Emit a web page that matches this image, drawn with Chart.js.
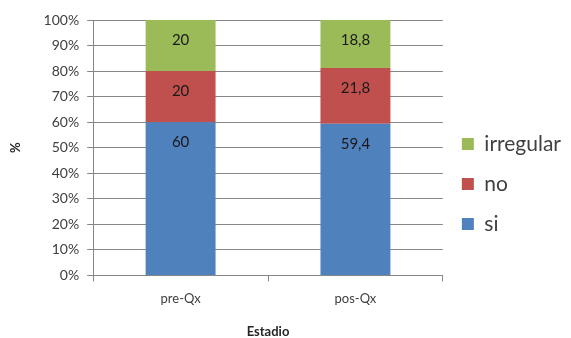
<!DOCTYPE html>
<html>
<head>
<meta charset="utf-8">
<script src="https://cdn.jsdelivr.net/npm/chart.js@4/dist/chart.umd.min.js"></script>
<style>
  html, body { margin: 0; padding: 0; background: #fff; }
  #wrap { width: 571px; height: 338px; }
</style>
</head>
<body>
<div id="wrap"><canvas id="c" width="571" height="338"></canvas></div>
<script>
// Stages and the share of each answer (%) per stage
const categories = ['pre-Qx', 'pos-Qx'];
const siValues = [60, 59.4];
const noValues = [20, 21.8];
const irregularValues = [20, 18.8];
const yTicks = [0, 10, 20, 30, 40, 50, 60, 70, 80, 90, 100];

const FONT = 'Lato, "Open Sans", sans-serif';
const AXIS_GREY = '#868686';
const TEXT_GREY = '#404040';

// Writes each segment's value (comma decimal) just below the segment's top
const valueLabels = {
  id: 'valueLabels',
  afterDatasetsDraw(chart) {
    const ctx = chart.ctx;
    ctx.save();
    ctx.font = '15px ' + FONT;
    ctx.fillStyle = '#1a1a1a';
    ctx.textAlign = 'center';
    ctx.textBaseline = 'middle';
    chart.data.datasets.forEach((ds, i) => {
      const meta = chart.getDatasetMeta(i);
      meta.data.forEach((bar, j) => {
        const v = ds.data[j];
        const txt = String(v).replace('.', ',');
        ctx.fillText(txt, bar.x, bar.y + 20);
      });
    });
    ctx.restore();
  }
};

new Chart(document.getElementById('c'), {
  type: 'bar',
  data: {
    labels: categories,
    datasets: [
      { label: 'si', data: siValues, backgroundColor: '#4F81BD' },
      { label: 'no', data: noValues, backgroundColor: '#C0504D' },
      { label: 'irregular', data: irregularValues, backgroundColor: '#9BBB59' }
    ]
  },
  options: {
    responsive: false,
    animation: false,
    devicePixelRatio: 1,
    layout: { padding: { top: 20, left: 8, right: 0, bottom: 0 } },
    datasets: { bar: { barPercentage: 0.4, categoryPercentage: 1 } },
    plugins: {
      legend: {
        position: 'right',
        reverse: true,
        title: { display: true, text: ' ', font: { size: 10, lineHeight: 1 }, padding: 0 },
        labels: {
          boxWidth: 12,
          boxHeight: 12,
          padding: 19,
          color: TEXT_GREY,
          font: { family: FONT, size: 21 }
        }
      },
      tooltip: { enabled: false }
    },
    scales: {
      x: {
        stacked: true,
        grid: { display: true, drawOnChartArea: false, drawTicks: true, tickLength: 6, color: AXIS_GREY, offset: true },
        border: { color: AXIS_GREY },
        ticks: { color: TEXT_GREY, font: { family: FONT, size: 13 }, padding: 10 },
        title: { display: true, text: 'Estadio', color: '#262626', font: { family: FONT, size: 13, weight: 'bold', lineHeight: 1 }, padding: { top: 8, bottom: 0 } }
      },
      y: {
        stacked: true,
        min: 0,
        max: 100,
        afterBuildTicks(axis) { axis.ticks = yTicks.map(v => ({ value: v })); },
        grid: { color: AXIS_GREY, tickLength: 6 },
        border: { color: AXIS_GREY },
        ticks: { color: TEXT_GREY, font: { family: FONT, size: 14 }, padding: 8, callback: v => v + '%' },
        title: { display: true, text: '%', color: '#262626', font: { family: FONT, size: 13, weight: 'bold' }, padding: { top: 0, bottom: 12 } }
      }
    }
  },
  plugins: [valueLabels]
});
</script>
</body>
</html>
